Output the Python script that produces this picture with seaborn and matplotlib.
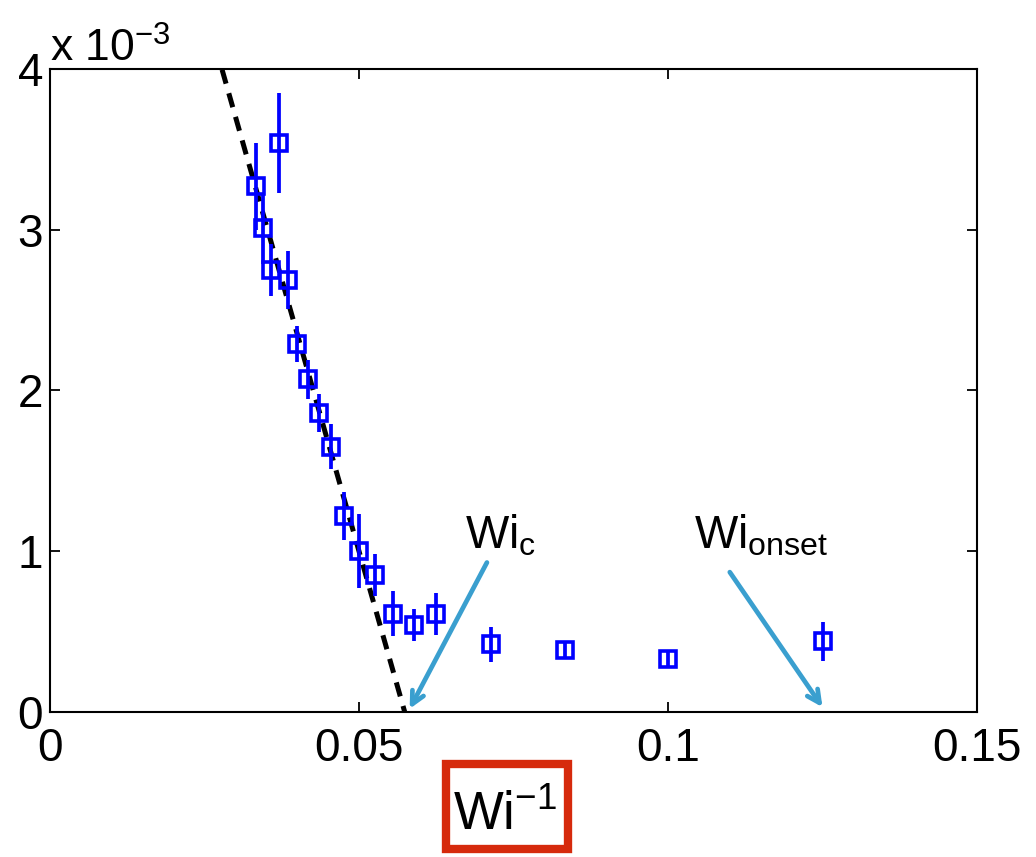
import numpy as np
import pandas as pd
import matplotlib
matplotlib.use("Agg")
import matplotlib.pyplot as plt
from matplotlib.patches import Rectangle
import seaborn as sns

# ---- data ----
wi_inv = [1/30, 1/29, 1/28, 1/27, 1/26, 1/25, 1/24, 1/23, 1/22, 1/21,
          1/20, 1/19, 1/18, 1/17, 1/16, 1/14, 1/12, 1/10, 1/8]
values = [3.27e-3, 3.01e-3, 2.75e-3, 3.54e-3, 2.69e-3, 2.29e-3, 2.07e-3, 1.86e-3, 1.65e-3, 1.22e-3,
          1.00e-3, 0.85e-3, 0.61e-3, 0.54e-3, 0.61e-3, 0.42e-3, 0.385e-3, 0.33e-3, 0.44e-3]
errors = [0.27e-3, 0.22e-3, 0.16e-3, 0.31e-3, 0.18e-3, 0.11e-3, 0.12e-3, 0.12e-3, 0.14e-3, 0.15e-3,
          0.23e-3, 0.13e-3, 0.14e-3, 0.10e-3, 0.13e-3, 0.11e-3, 0.05e-3, 0.045e-3, 0.12e-3]

# linear fit (dashed line): y = slope * (x - wi_c_inv)
fit_wi_c_inv = 0.0574
fit_slope = -0.1352
fit_x_start = 0.02

wi_onset_inv = 1/8

xticks = [0, 0.05, 0.1, 0.15]
xtick_labels = ["0", "0.05", "0.1", "0.15"]
yticks = [0, 1e-3, 2e-3, 3e-3, 4e-3]
ytick_labels = ["0", "1", "2", "3", "4"]

# ---- style ----
sns.set_style("white")
plt.rcParams["font.family"] = ["Liberation Sans", "DejaVu Sans"]
plt.rcParams["text.color"] = "black"
plt.rcParams["mathtext.fontset"] = "custom"
plt.rcParams["mathtext.rm"] = "Liberation Sans"
plt.rcParams["mathtext.it"] = "Liberation Sans:italic"
plt.rcParams["mathtext.bf"] = "Liberation Sans:bold"

W, H = 1036, 857
fig = plt.figure(figsize=(W / 100, H / 100), dpi=100)
ax = fig.add_axes([50 / W, (H - 712) / H, 927 / W, 643 / H])

df = pd.DataFrame({"x": wi_inv, "y": values, "err": errors})

# error bars
ax.vlines(df["x"], df["y"] - df["err"], df["y"] + df["err"], color="#0000FF", lw=2.7, zorder=3)

# square markers
sns.lineplot(data=df, x="x", y="y", marker="s", linestyle="none", markersize=11.5,
             markerfacecolor="none", markeredgecolor="#0000FF", markeredgewidth=2.6,
             color="#0000FF", estimator=None, sort=False, ax=ax, zorder=4)

# dashed fit line
fx = np.linspace(fit_x_start, fit_wi_c_inv, 50)
fy = fit_slope * (fx - fit_wi_c_inv)
sns.lineplot(x=fx, y=fy, color="black", lw=3.6, ax=ax, zorder=2)
ax.lines[-1].set_dashes((2.9, 2.0))

ax.set_xlim(0, 0.15)
ax.set_ylim(0, 4e-3)
ax.set_xticks(xticks)
ax.set_xticklabels(xtick_labels)
ax.set_yticks(yticks)
ax.set_yticklabels(ytick_labels)
ax.set_xlabel("")
ax.set_ylabel("")
ax.tick_params(direction="in", length=7, width=1.3, top=True, right=True,
               bottom=True, left=True, labelsize=33, colors="black")
ax.tick_params(axis="x", pad=11)
ax.tick_params(axis="y", pad=5)
for s in ax.spines.values():
    s.set_visible(True)
    s.set_color("black")
    s.set_linewidth(1.5)

# scale text
ax.text(0, 1.011, r"x 10$^{\mathregular{-3}}$", transform=ax.transAxes,
        ha="left", va="baseline", fontsize=32, color="black")

# annotations
arrow_color = "#3A9FCF"
arrow_props = dict(arrowstyle="->,head_length=0.9,head_width=0.45", color=arrow_color,
                   lw=3.4, shrinkA=0, shrinkB=0)
ax.annotate("", xy=(fit_wi_c_inv + 0.0008, 0.02e-3), xytext=(0.0707, 0.93e-3),
            arrowprops=arrow_props)
ax.annotate("", xy=(wi_onset_inv, 0.03e-3), xytext=(0.110, 0.87e-3),
            arrowprops=arrow_props)
ax.text(0.0671, 1.02e-3, r"Wi$_\mathregular{c}$", fontsize=33, ha="left", va="baseline",
        color="black")
ax.text(0.1042, 1.02e-3, r"Wi$_\mathregular{onset}$", fontsize=33, ha="left", va="baseline",
        color="black")

# x label in red box
fig.add_artist(Rectangle((446 / W, (H - 849) / H), 122 / W, 85 / H, transform=fig.transFigure,
                         fill=False, ec="#D62A0C", lw=6))
fig.text(505 / W, (H - 830) / H, r"Wi$^\mathregular{-1}$", fontsize=38, ha="center",
         va="baseline", color="black")

fig.savefig("out.png", dpi=100)
